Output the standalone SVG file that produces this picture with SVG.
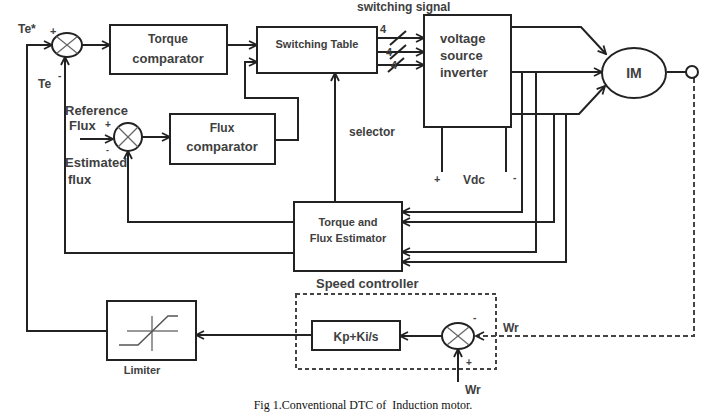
<svg xmlns="http://www.w3.org/2000/svg" width="709" height="417" viewBox="0 0 709 417">
<style>
.box{fill:#fff;stroke:#222;stroke-width:2}
.ln{fill:none;stroke:#222;stroke-width:2}
.dash{fill:none;stroke:#444;stroke-width:2;stroke-dasharray:5,3}
.t{font-family:"Liberation Sans",Arial,sans-serif;font-weight:bold;fill:#404040}
.c{text-anchor:middle}
.cap{font-family:"Liberation Serif","Times New Roman",serif;font-size:12px;fill:#111;text-anchor:middle}
</style>
<defs>
<marker id="arr" viewBox="0 0 10 10" refX="9" refY="5" markerWidth="10" markerHeight="10" markerUnits="userSpaceOnUse" orient="auto">
<path d="M1,1 L9,5 L1,9" fill="none" stroke="#222" stroke-width="1.8"/>
</marker>
</defs>
<rect width="709" height="417" fill="#fff"/>

<g id="connectors">
<polyline class="ln" points="107,331 27,331 27,45 52,45" marker-end="url(#arr)"/>
<line class="ln" x1="82" y1="45" x2="110" y2="45" marker-end="url(#arr)"/>
<line class="ln" x1="227" y1="45" x2="257" y2="45" marker-end="url(#arr)"/>
<polyline class="ln" points="275,140 298,140 298,98 245,98 245,62 257,62" marker-end="url(#arr)"/>
<line class="ln" x1="80" y1="139" x2="113" y2="139" marker-end="url(#arr)"/>
<line class="ln" x1="142" y1="137" x2="170" y2="137" marker-end="url(#arr)"/>
<polyline class="ln" points="294,222 128,222 128,151" marker-end="url(#arr)"/>
<polyline class="ln" points="294,253 65,253 65,57" marker-end="url(#arr)"/>
<line class="ln" x1="335" y1="202" x2="335" y2="73" marker-end="url(#arr)"/>
<line class="ln" x1="377" y1="38" x2="424" y2="38" marker-end="url(#arr)"/>
<line class="ln" x1="377" y1="52" x2="424" y2="52" marker-end="url(#arr)"/>
<line class="ln" x1="377" y1="65" x2="424" y2="65" marker-end="url(#arr)"/>
<line class="ln" x1="390" y1="45" x2="406" y2="31"/>
<line class="ln" x1="390" y1="59" x2="406" y2="45"/>
<line class="ln" x1="388" y1="72" x2="404" y2="58"/>
<polyline class="ln" points="511,27 581,27 606,54" marker-end="url(#arr)"/>
<line class="ln" x1="511" y1="72" x2="602" y2="72" marker-end="url(#arr)"/>
<polyline class="ln" points="511,114 579,114 605,86" marker-end="url(#arr)"/>
<line class="ln" x1="442" y1="127" x2="442" y2="172"/>
<line class="ln" x1="506" y1="127" x2="506" y2="172"/>
<polyline class="ln" points="522,72 522,212 402,212" marker-end="url(#arr)"/>
<polyline class="ln" points="536,72 536,252 402,252" marker-end="url(#arr)"/>
<polyline class="ln" points="554,114 554,222 402,222" marker-end="url(#arr)"/>
<polyline class="ln" points="566,114 566,262 402,262" marker-end="url(#arr)"/>
<line class="ln" x1="667" y1="72" x2="686" y2="72"/>
<polyline class="dash" points="694,78 694,336 476,336" marker-end="url(#arr)"/>
<line class="ln" x1="458" y1="382" x2="458" y2="349" marker-end="url(#arr)"/>
<line class="ln" x1="442" y1="336" x2="400" y2="336" marker-end="url(#arr)"/>
<line class="ln" x1="312" y1="335" x2="196" y2="335" marker-end="url(#arr)"/>
</g>

<g id="sum1">
<ellipse class="box" cx="67" cy="45" rx="15" ry="12"/>
<line x1="56.5" y1="36.5" x2="77.5" y2="53.5" style="stroke:#666;stroke-width:1.2"/>
<line x1="56.5" y1="53.5" x2="77.5" y2="36.5" style="stroke:#666;stroke-width:1.2"/>
<text class="t" x="18" y="33" font-size="12">Te*</text>
<text class="t" x="50" y="35" font-size="11">+</text>
<text class="t" x="38" y="88" font-size="12">Te</text>
<text class="t" x="58" y="79" font-size="10">-</text>
</g>

<g id="torque-comparator">
<rect class="box" x="110" y="25" width="117" height="49"/>
<text class="t c" x="168" y="43" font-size="12">Torque</text>
<text class="t c" x="168" y="63" font-size="13">comparator</text>
</g>

<g id="switching-table">
<rect class="box" x="257" y="27" width="120" height="46"/>
<text class="t c" x="317" y="48" font-size="11">Switching Table</text>
<text class="t" x="357" y="11" font-size="12">switching signal</text>
<text class="t" x="380" y="33" font-size="11">4</text>
<text class="t" x="386" y="56" font-size="11">4</text>
<text class="t" x="391" y="69" font-size="11">4</text>
</g>

<g id="inverter">
<rect class="box" x="424" y="15" width="87" height="112"/>
<text class="t" x="440" y="43" font-size="13">voltage</text>
<text class="t" x="440" y="60" font-size="13">source</text>
<text class="t" x="440" y="77" font-size="13">inverter</text>
<text class="t" x="434" y="183" font-size="11">+</text>
<text class="t" x="463" y="184" font-size="12">Vdc</text>
<text class="t" x="513" y="181" font-size="10">-</text>
</g>

<g id="motor">
<ellipse class="box" cx="634" cy="73" rx="32" ry="25"/>
<text class="t c" x="634" y="78" font-size="14">IM</text>
<circle class="box" cx="692" cy="72" r="6"/>
</g>

<g id="sum-flux">
<circle class="box" cx="128" cy="137" r="14"/>
<line x1="118" y1="127" x2="138" y2="147" style="stroke:#666;stroke-width:1.2"/>
<line x1="118" y1="147" x2="138" y2="127" style="stroke:#666;stroke-width:1.2"/>
<text class="t" x="65" y="115" font-size="13">Reference</text>
<text class="t" x="69" y="130" font-size="13">Flux</text>
<text class="t" x="105" y="128" font-size="10">+</text>
<text class="t" x="106" y="153" font-size="9">-</text>
<text class="t" x="65" y="167" font-size="13">Estimated</text>
<text class="t" x="68" y="184" font-size="13">flux</text>
</g>

<g id="flux-comparator">
<rect class="box" x="170" y="114" width="105" height="50"/>
<text class="t c" x="222" y="132" font-size="12">Flux</text>
<text class="t c" x="222" y="151" font-size="13">comparator</text>
</g>

<g id="selector-label">
<text class="t" x="349" y="136" font-size="12">selector</text>
</g>

<g id="estimator">
<rect class="box" x="294" y="202" width="108" height="69"/>
<text class="t c" x="348" y="226" font-size="11">Torque and</text>
<text class="t c" x="348" y="242" font-size="11">Flux Estimator</text>
</g>

<g id="speed-controller">
<rect x="296" y="294" width="200" height="75" fill="none" stroke="#444" stroke-width="2" stroke-dasharray="4,3"/>
<text class="t" x="316" y="288" font-size="13">Speed controller</text>
<rect class="box" x="312" y="321" width="88" height="29"/>
<text class="t c" x="356" y="341" font-size="12">Kp+Ki/s</text>
</g>

<g id="sum-speed">
<ellipse class="box" cx="458" cy="336" rx="16" ry="13"/>
<line x1="447" y1="327" x2="469" y2="345" style="stroke:#666;stroke-width:1.2"/>
<line x1="447" y1="345" x2="469" y2="327" style="stroke:#666;stroke-width:1.2"/>
<text class="t" x="473" y="321" font-size="10">-</text>
<text class="t" x="466" y="366" font-size="10">+</text>
<text class="t" x="503" y="332" font-size="12">Wr</text>
<text class="t" x="465" y="394" font-size="12">Wr</text>
</g>

<g id="limiter">
<rect class="box" x="107" y="301" width="89" height="59"/>
<line x1="127" y1="331" x2="178" y2="331" stroke="#777" stroke-width="1.5"/>
<line x1="152" y1="316" x2="152" y2="351" stroke="#777" stroke-width="1.5"/>
<polyline points="119,345 138,345 168,316 178,316" fill="none" stroke="#555" stroke-width="1.5"/>
<text class="t c" x="142" y="374" font-size="11">Limiter</text>
</g>

<text class="cap" x="363" y="409" xml:space="preserve">Fig 1.Conventional DTC of  Induction motor.</text>
</svg>
